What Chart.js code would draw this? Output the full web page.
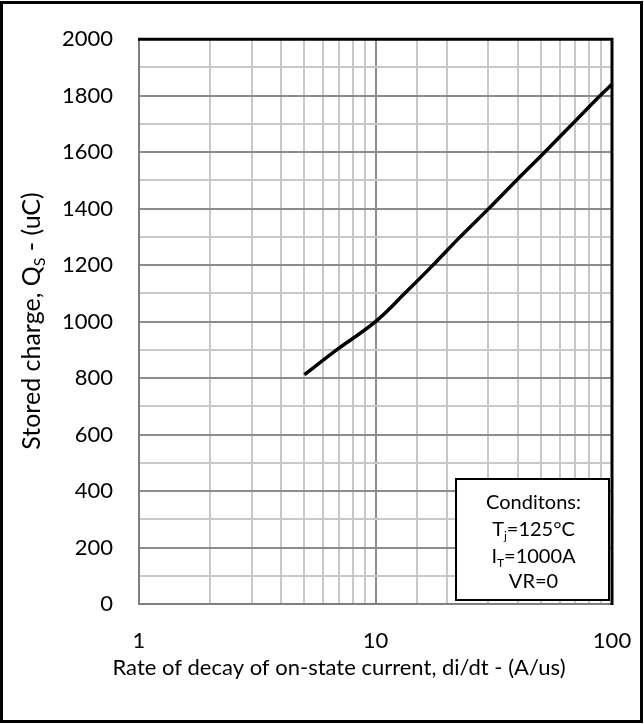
<!DOCTYPE html>
<html>
<head>
<meta charset="utf-8">
<script src="https://cdn.jsdelivr.net/npm/chart.js@4/dist/chart.umd.min.js"></script>
<style>
  html, body { margin: 0; padding: 0; background: #fff; }
  #wrap { width: 644px; height: 724px; position: relative; }
</style>
</head>
<body>
<div id="wrap"><canvas id="qsChart" width="644" height="724"></canvas></div>
<script>
// données
const rateValues = [5, 6.85, 10, 13.3, 17.5, 22.8, 30.1, 39.4, 51.9, 68, 89, 100];
const chargeValues = [812, 900, 1000, 1100, 1200, 1300, 1400, 1500, 1600, 1700, 1800, 1840];
const xTickLabels = [1, 10, 100];
const conditionLines = ['Conditons:', 'T|j|=125°C', 'I|T|=1000A', 'VR=0'];

const FONT = 'Lato, "Open Sans", sans-serif';

// texte avec indice: "T|j|=125" -> T, indice j, puis =125
function drawSubText(ctx, text, cx, cy, size) {
    const parts = text.split('|');
    const subSize = Math.round(size * 0.62);
    let width = 0;
    parts.forEach((p, i) => {
        ctx.font = (i % 2 ? subSize : size) + 'px ' + FONT;
        width += ctx.measureText(p).width;
    });
    let x = cx - width / 2;
    ctx.textAlign = 'left';
    ctx.textBaseline = 'middle';
    parts.forEach((p, i) => {
        const isSub = i % 2 === 1;
        ctx.font = (isSub ? subSize : size) + 'px ' + FONT;
        ctx.fillText(p, x, isSub ? cy + size * 0.3 : cy);
        x += ctx.measureText(p).width;
    });
}

const framePlugin = {
    id: 'frame',
    afterDraw(chart) {
        const ctx = chart.ctx;
        const a = chart.chartArea;
        ctx.save();
        // cadre du graphe (haut et droite en noir)
        ctx.strokeStyle = '#000';
        ctx.lineWidth = 3;
        ctx.beginPath();
        ctx.moveTo(a.left - 1, a.top);
        ctx.lineTo(a.right, a.top);
        ctx.lineTo(a.right, a.bottom + 1);
        ctx.stroke();

        // boîte des conditions
        const bx = 456, by = 479, bw = 153, bh = 121;
        ctx.fillStyle = '#fff';
        ctx.fillRect(bx, by, bw, bh);
        ctx.lineWidth = 2;
        ctx.strokeRect(bx, by, bw, bh);
        ctx.fillStyle = '#000';
        const ys = [503, 530, 557, 582];
        conditionLines.forEach((t, i) => drawSubText(ctx, t, bx + bw / 2 + 1, ys[i], 20));

        // titre axe X
        drawSubText(ctx, 'Rate of decay of on-state current, di/dt - (A/us)', 339, 668, 22);

        // titre axe Y avec indice
        ctx.save();
        ctx.translate(32, 321);
        ctx.rotate(-Math.PI / 2);
        drawSubText(ctx, 'Stored charge, Q|S| - (uC)', 0, 0, 25);
        ctx.restore();

        // bordure extérieure
        ctx.lineWidth = 3;
        ctx.strokeStyle = '#000';
        ctx.strokeRect(1.5, 2.5, 640, 719);
        ctx.restore();
    }
};

const ctx = document.getElementById('qsChart').getContext('2d');
new Chart(ctx, {
    type: 'line',
    data: {
        datasets: [{
            data: rateValues.map((x, i) => ({ x: x, y: chargeValues[i] })),
            borderColor: '#000',
            borderWidth: 3.5,
            pointRadius: 0,
            tension: 0.4,
            fill: false
        }]
    },
    options: {
        responsive: false,
        animation: false,
        layout: { padding: { left: 0, right: 32, top: 37, bottom: 0 } },
        plugins: { legend: { display: false }, tooltip: { enabled: false } },
        scales: {
            x: {
                type: 'logarithmic',
                min: 1,
                max: 100,
                afterFit(scale) {
                    scale.height = 120;
                    scale.paddingLeft = 0;
                    scale.paddingRight = 0;
                },
                grid: {
                    drawTicks: false,
                    lineWidth: 2,
                    color: c => (c.tick && c.tick.value === 10) ? '#8c8c8c' : '#c8c8c8'
                },
                border: { color: '#7f7f7f', width: 2 },
                ticks: {
                    autoSkip: false,
                    maxRotation: 0,
                    padding: 24,
                    color: '#000',
                    font: { family: FONT, size: 22 },
                    callback: v => xTickLabels.includes(v) ? String(v) : ''
                }
            },
            y: {
                min: 0,
                max: 2000,
                afterFit(scale) { scale.width = 139; },
                grid: {
                    drawTicks: false,
                    lineWidth: 2,
                    color: c => (c.tick && c.tick.value % 200 === 0) ? '#8c8c8c' : '#c8c8c8'
                },
                border: { color: '#7f7f7f', width: 2 },
                ticks: {
                    stepSize: 100,
                    autoSkip: false,
                    padding: 26,
                    color: '#000',
                    font: { family: FONT, size: 22 },
                    callback: v => v % 200 === 0 ? String(v) : ''
                }
            }
        }
    },
    plugins: [framePlugin]
});
</script>
</body>
</html>
